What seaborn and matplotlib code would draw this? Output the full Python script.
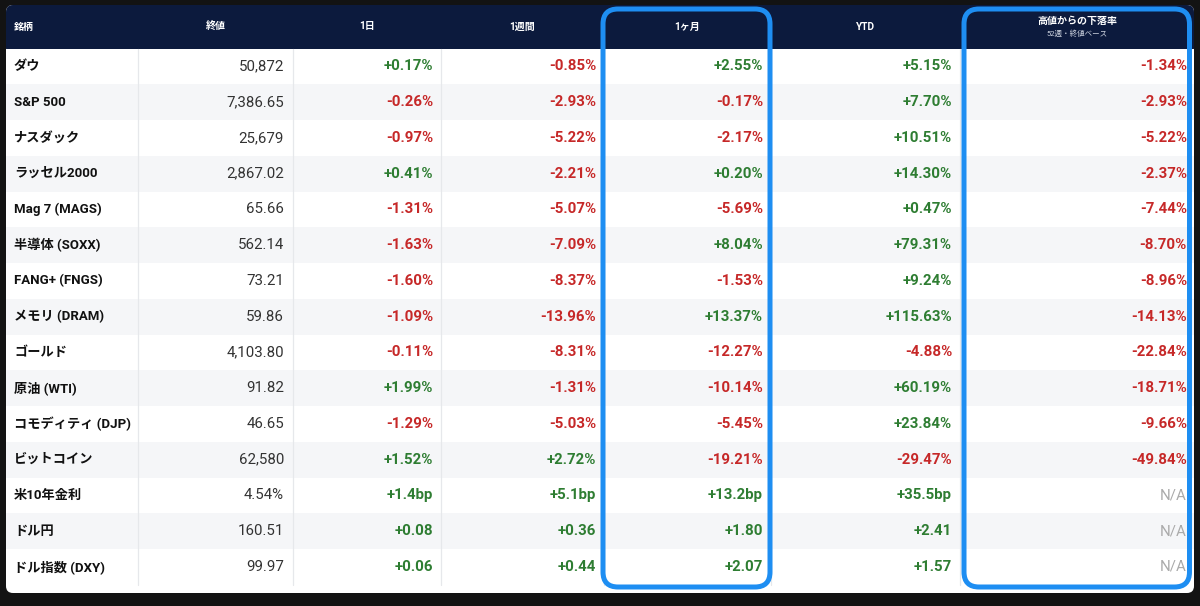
import numpy as np
import matplotlib
matplotlib.use("Agg")
import matplotlib.pyplot as plt
import seaborn as sns
from matplotlib.colors import ListedColormap
from matplotlib.patches import FancyBboxPatch

# ---- data ----
names = ["ダウ", "S&P 500", "ナスダック", "ラッセル2000", "Mag 7 (MAGS)", "半導体 (SOXX)",
         "FANG+ (FNGS)", "メモリ (DRAM)", "ゴールド", "原油 (WTI)", "コモディティ (DJP)",
         "ビットコイン", "米10年金利", "ドル円", "ドル指数 (DXY)"]
close = [50872, 7386.65, 25679, 2867.02, 65.66, 562.14, 73.21, 59.86, 4103.80, 91.82,
         46.65, 62580, 4.54, 160.51, 99.97]
close_dec = [0, 2, 0, 2, 2, 2, 2, 2, 2, 2, 2, 0, 2, 2, 2]
# unit per row: "%" percent change, "bp" basis points, "" plain level change
unit = ["%"] * 12 + ["bp", "", ""]
chg_1d = [0.17, -0.26, -0.97, 0.41, -1.31, -1.63, -1.60, -1.09, -0.11, 1.99, -1.29, 1.52, 1.4, 0.08, 0.06]
chg_1w = [-0.85, -2.93, -5.22, -2.21, -5.07, -7.09, -8.37, -13.96, -8.31, -1.31, -5.03, 2.72, 5.1, 0.36, 0.44]
chg_1m = [2.55, -0.17, -2.17, 0.20, -5.69, 8.04, -1.53, 13.37, -12.27, -10.14, -5.45, -19.21, 13.2, 1.80, 2.07]
chg_ytd = [5.15, 7.70, 10.51, 14.30, 0.47, 79.31, 9.24, 115.63, -4.88, 60.19, 23.84, -29.47, 35.5, 2.41, 1.57]
from_high = [-1.34, -2.93, -5.22, -2.37, -7.44, -8.70, -8.96, -14.13, -22.84, -18.71, -9.66, -49.84,
             None, None, None]
headers = ["銘柄", "終値", "1日", "1週間", "1ヶ月", "YTD", "高値からの下落率"]
sub_header = "52週・終値ベース"

# ---- style ----
BG = "#131313"
NAVY = "#0c1a3d"
STRIPE = "#f5f6f8"
GRID = "#e6e8eb"
GREEN = "#2e7d32"
RED = "#c62828"
BLUE = "#1e8ef2"
W, H = 1200, 606

sns.set_theme(style="white")
plt.rcParams["font.family"] = ["Roboto", "Noto Sans CJK JP", "DejaVu Sans"]

fig = plt.figure(figsize=(W / 100, H / 100), dpi=100, facecolor=BG)

# layout in pixels
left, right = 6, 1194
top, head_bot = 5, 48.5
n = len(names)
row_h = 35.75
body_bot = head_bot + n * row_h
col_edges = [left, 138, 293, 441, 604, 771, 960, right]

# background panel + header
ax_bg = fig.add_axes([0, 0, 1, 1])
ax_bg.set_xlim(0, W)
ax_bg.set_ylim(H, 0)
ax_bg.axis("off")
ax_bg.add_patch(FancyBboxPatch((left, top), right - left, 593 - top,
                               boxstyle="round,pad=0,rounding_size=7",
                               facecolor="white", edgecolor="none"))
ax_bg.add_patch(FancyBboxPatch((left, top), right - left, 50,
                               boxstyle="round,pad=0,rounding_size=7",
                               facecolor=NAVY, edgecolor="none"))

# striped body drawn with seaborn heatmap
ax_body = fig.add_axes([left / W, 1 - body_bot / H, (right - left) / W, (body_bot - head_bot) / H])
stripes = (np.arange(n) % 2).reshape(-1, 1)
sns.heatmap(stripes, ax=ax_body, cmap=ListedColormap(["white", STRIPE]), cbar=False,
            xticklabels=False, yticklabels=False, linewidths=0)
ax_body.axis("off")

# overlay for lines, text and highlight boxes
ax = fig.add_axes([0, 0, 1, 1])
ax.set_xlim(0, W)
ax.set_ylim(H, 0)
ax.patch.set_alpha(0)
ax.axis("off")

for x in col_edges[1:-1]:
    ax.plot([x, x], [head_bot, body_bot], color=GRID, lw=0.9, zorder=1)

# header labels
hfont = dict(color="white", fontsize=7.2, fontweight="bold", va="center")
ax.text(14, 26.5, headers[0], ha="left", **hfont)
for j in range(1, 6):
    cx = (col_edges[j] + col_edges[j + 1]) / 2
    ax.text(cx, 26.5, headers[j], ha="center", **hfont)
cx = (col_edges[6] + col_edges[7]) / 2
ax.text(cx, 21, headers[6], ha="center", **hfont)
ax.text(cx, 34.5, sub_header, color="#d0d6e2", fontsize=5.4, ha="center", va="center")


def fmt_change(v, u):
    if v is None:
        return "N/A", "#aaaaaa"
    if u == "%":
        s = f"{v:+.2f}%"
    elif u == "bp":
        s = f"{v:+.1f}bp"
    else:
        s = f"{v:+.2f}"
    return s, (GREEN if v >= 0 else RED)


for i in range(n):
    cy = head_bot + (i + 0.5) * row_h
    ax.text(14, cy, names[i], color="#111111", fontsize=9.5, fontweight="bold",
            ha="left", va="center")
    c = f"{close[i]:,.{close_dec[i]}f}" + ("%" if unit[i] == "bp" else "")
    ax.text(col_edges[2] - 9, cy, c, color="#333333", fontsize=10.8,
            ha="right", va="center")
    for j, series in enumerate([chg_1d, chg_1w, chg_1m, chg_ytd, from_high]):
        s, col = fmt_change(series[i], unit[i])
        weight = "normal" if series[i] is None else "semibold"
        xr = col_edges[j + 3] - (8 if j < 4 else 7)
        ax.text(xr, cy, s, color=col, fontsize=10.8, fontweight=weight,
                ha="right", va="center")

# highlight boxes
for x0, x1 in [(603, 770), (964, 1189.5)]:
    ax.add_patch(FancyBboxPatch((x0, 9), x1 - x0, 587 - 9,
                                boxstyle="round,pad=0,rounding_size=15",
                                facecolor="none", edgecolor=BLUE, lw=3.6, zorder=5))

fig.savefig("out.png", dpi=100, facecolor=BG)
